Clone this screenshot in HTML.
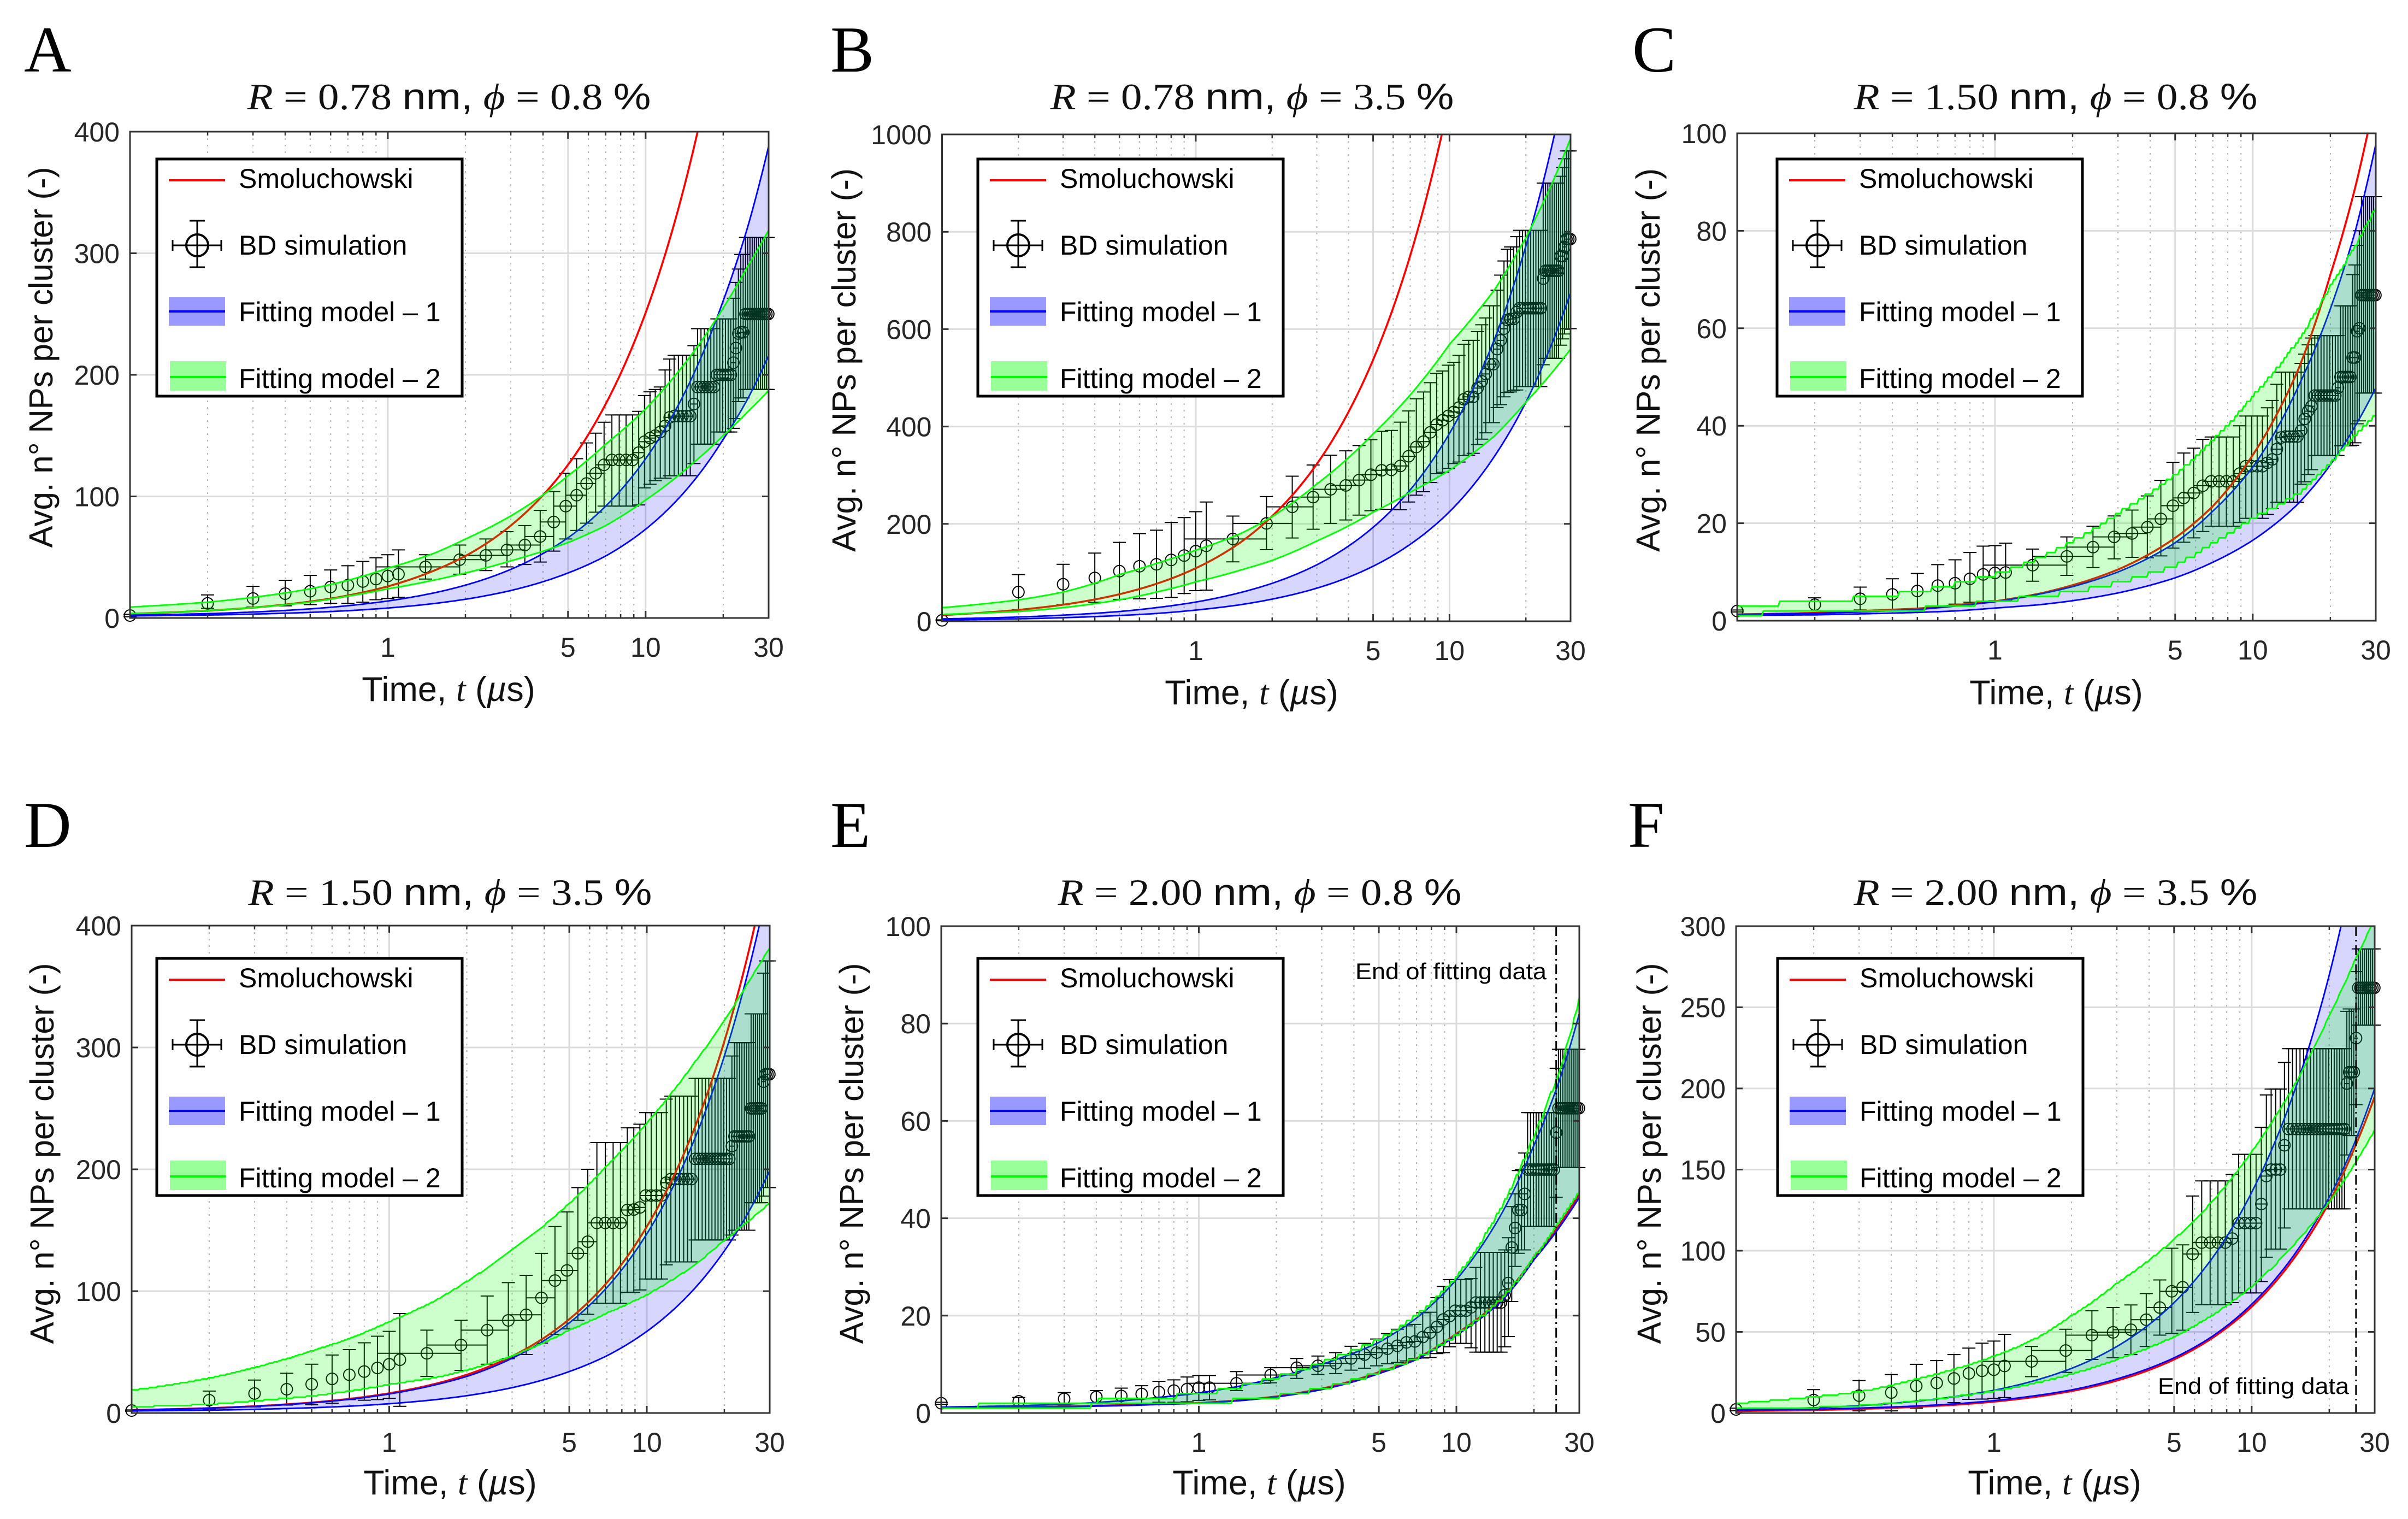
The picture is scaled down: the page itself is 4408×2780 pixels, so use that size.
<!DOCTYPE html>
<html lang="en">
<head>
<meta charset="utf-8">
<title>Avg. NPs per cluster vs time</title>
<style>
html,body{margin:0;padding:0;background:#fff;}
svg{display:block;}
text{font-family:"Liberation Sans",sans-serif;}
.letter{font-family:"Liberation Serif",serif;font-size:120px;fill:#000;}
.title{font-family:"Liberation Serif",serif;font-size:68px;fill:#111;}
.sans{font-family:"Liberation Sans",sans-serif;}
.it{font-style:italic;}
.xlab{font-size:63px;fill:#111;}
.ylab{font-size:61px;fill:#111;}
.mathit{font-family:"Liberation Serif",serif;font-style:italic;}
.leg{font-size:50px;fill:#000;}
.note{font-size:42px;fill:#000;}
</style>
</head>
<body>
<svg id="figure" xmlns="http://www.w3.org/2000/svg" width="4408" height="2780" viewBox="0 0 4408 2780">
<rect x="0" y="0" width="4408" height="2780" fill="#fff"/>

<g id="panel-a">
  <text class="letter" x="44" y="131">A</text>
  <text class="title" x="822" y="200" text-anchor="middle" textLength="739" lengthAdjust="spacingAndGlyphs"><tspan class="it">R</tspan> = 0.78 <tspan class="sans">nm,</tspan> <tspan class="it">ϕ</tspan> = 0.8 <tspan class="sans">%</tspan></text>
  <text class="ylab" transform="translate(96,654) rotate(-90)" text-anchor="middle" textLength="697" lengthAdjust="spacingAndGlyphs">Avg. n° NPs per cluster (-)</text>
  <text class="xlab" x="821" y="1283" text-anchor="middle">Time, <tspan class="mathit">t</tspan> (<tspan class="it">µ</tspan>s)</text>
  <g id="chart-a"></g>
  <g transform="translate(287,291)">
    <rect x="0" y="0" width="559" height="434" fill="#fff" stroke="#000" stroke-width="5"/>
    <line x1="22" x2="125" y1="39" y2="39" stroke="#f00" stroke-width="4"/>
    <text class="leg" x="150" y="53">Smoluchowski</text>
    <circle cx="74" cy="158" r="20" fill="none" stroke="#000" stroke-width="4"/>
    <path d="M29 158H118M29 148V168M118 148V168M74 113V198M60 113H88M60 198H88" fill="none" stroke="#000" stroke-width="3"/>
    <text class="leg" x="150" y="175">BD simulation</text>
    <rect x="22" y="253" width="103" height="52" fill="#9999ff"/>
    <line x1="22" x2="125" y1="279" y2="279" stroke="#00f" stroke-width="4"/>
    <text class="leg" x="150" y="297">Fitting model – 1</text>
    <rect x="24" y="370" width="103" height="54" fill="#99ff99"/>
    <line x1="24" x2="127" y1="399" y2="399" stroke="#0f0" stroke-width="4"/>
    <text class="leg" x="150" y="419">Fitting model – 2</text>
  </g>
</g>

<g id="panel-b">
  <text class="letter" x="1520" y="131">B</text>
  <text class="title" x="2292" y="200" text-anchor="middle" textLength="739" lengthAdjust="spacingAndGlyphs"><tspan class="it">R</tspan> = 0.78 <tspan class="sans">nm,</tspan> <tspan class="it">ϕ</tspan> = 3.5 <tspan class="sans">%</tspan></text>
  <text class="ylab" transform="translate(1566,659) rotate(-90)" text-anchor="middle" textLength="702" lengthAdjust="spacingAndGlyphs">Avg. n° NPs per cluster (-)</text>
  <text class="xlab" x="2291" y="1289" text-anchor="middle">Time, <tspan class="mathit">t</tspan> (<tspan class="it">µ</tspan>s)</text>
  <g id="chart-b"></g>
  <g transform="translate(1790,291)">
    <rect x="0" y="0" width="559" height="434" fill="#fff" stroke="#000" stroke-width="5"/>
    <line x1="22" x2="125" y1="39" y2="39" stroke="#f00" stroke-width="4"/>
    <text class="leg" x="150" y="53">Smoluchowski</text>
    <circle cx="74" cy="158" r="20" fill="none" stroke="#000" stroke-width="4"/>
    <path d="M29 158H118M29 148V168M118 148V168M74 113V198M60 113H88M60 198H88" fill="none" stroke="#000" stroke-width="3"/>
    <text class="leg" x="150" y="175">BD simulation</text>
    <rect x="22" y="253" width="103" height="52" fill="#9999ff"/>
    <line x1="22" x2="125" y1="279" y2="279" stroke="#00f" stroke-width="4"/>
    <text class="leg" x="150" y="297">Fitting model – 1</text>
    <rect x="24" y="370" width="103" height="54" fill="#99ff99"/>
    <line x1="24" x2="127" y1="399" y2="399" stroke="#0f0" stroke-width="4"/>
    <text class="leg" x="150" y="419">Fitting model – 2</text>
  </g>
</g>

<g id="panel-c">
  <text class="letter" x="2988" y="131">C</text>
  <text class="title" x="3763" y="200" text-anchor="middle" textLength="739" lengthAdjust="spacingAndGlyphs"><tspan class="it">R</tspan> = 1.50 <tspan class="sans">nm,</tspan> <tspan class="it">ϕ</tspan> = 0.8 <tspan class="sans">%</tspan></text>
  <text class="ylab" transform="translate(3038,659) rotate(-90)" text-anchor="middle" textLength="702" lengthAdjust="spacingAndGlyphs">Avg. n° NPs per cluster (-)</text>
  <text class="xlab" x="3764" y="1289" text-anchor="middle">Time, <tspan class="mathit">t</tspan> (<tspan class="it">µ</tspan>s)</text>
  <g id="chart-c"></g>
  <g transform="translate(3253,291)">
    <rect x="0" y="0" width="559" height="434" fill="#fff" stroke="#000" stroke-width="5"/>
    <line x1="22" x2="125" y1="39" y2="39" stroke="#f00" stroke-width="4"/>
    <text class="leg" x="150" y="53">Smoluchowski</text>
    <circle cx="74" cy="158" r="20" fill="none" stroke="#000" stroke-width="4"/>
    <path d="M29 158H118M29 148V168M118 148V168M74 113V198M60 113H88M60 198H88" fill="none" stroke="#000" stroke-width="3"/>
    <text class="leg" x="150" y="175">BD simulation</text>
    <rect x="22" y="253" width="103" height="52" fill="#9999ff"/>
    <line x1="22" x2="125" y1="279" y2="279" stroke="#00f" stroke-width="4"/>
    <text class="leg" x="150" y="297">Fitting model – 1</text>
    <rect x="24" y="370" width="103" height="54" fill="#99ff99"/>
    <line x1="24" x2="127" y1="399" y2="399" stroke="#0f0" stroke-width="4"/>
    <text class="leg" x="150" y="419">Fitting model – 2</text>
  </g>
</g>

<g id="panel-d">
  <text class="letter" x="44" y="1550">D</text>
  <text class="title" x="824" y="1656" text-anchor="middle" textLength="739" lengthAdjust="spacingAndGlyphs"><tspan class="it">R</tspan> = 1.50 <tspan class="sans">nm,</tspan> <tspan class="it">ϕ</tspan> = 3.5 <tspan class="sans">%</tspan></text>
  <text class="ylab" transform="translate(98,2111) rotate(-90)" text-anchor="middle" textLength="697" lengthAdjust="spacingAndGlyphs">Avg. n° NPs per cluster (-)</text>
  <text class="xlab" x="824" y="2735" text-anchor="middle">Time, <tspan class="mathit">t</tspan> (<tspan class="it">µ</tspan>s)</text>
  <g id="chart-d"></g>
  <g transform="translate(287,1754)">
    <rect x="0" y="0" width="559" height="434" fill="#fff" stroke="#000" stroke-width="5"/>
    <line x1="22" x2="125" y1="39" y2="39" stroke="#f00" stroke-width="4"/>
    <text class="leg" x="150" y="53">Smoluchowski</text>
    <circle cx="74" cy="158" r="20" fill="none" stroke="#000" stroke-width="4"/>
    <path d="M29 158H118M29 148V168M118 148V168M74 113V198M60 113H88M60 198H88" fill="none" stroke="#000" stroke-width="3"/>
    <text class="leg" x="150" y="175">BD simulation</text>
    <rect x="22" y="253" width="103" height="52" fill="#9999ff"/>
    <line x1="22" x2="125" y1="279" y2="279" stroke="#00f" stroke-width="4"/>
    <text class="leg" x="150" y="297">Fitting model – 1</text>
    <rect x="24" y="370" width="103" height="54" fill="#99ff99"/>
    <line x1="24" x2="127" y1="399" y2="399" stroke="#0f0" stroke-width="4"/>
    <text class="leg" x="150" y="419">Fitting model – 2</text>
  </g>
</g>

<g id="panel-e">
  <text class="letter" x="1520" y="1550">E</text>
  <text class="title" x="2306" y="1656" text-anchor="middle" textLength="739" lengthAdjust="spacingAndGlyphs"><tspan class="it">R</tspan> = 2.00 <tspan class="sans">nm,</tspan> <tspan class="it">ϕ</tspan> = 0.8 <tspan class="sans">%</tspan></text>
  <text class="ylab" transform="translate(1580,2111) rotate(-90)" text-anchor="middle" textLength="697" lengthAdjust="spacingAndGlyphs">Avg. n° NPs per cluster (-)</text>
  <text class="xlab" x="2305" y="2735" text-anchor="middle">Time, <tspan class="mathit">t</tspan> (<tspan class="it">µ</tspan>s)</text>
  <g id="chart-e"></g>
  <text class="note" x="2481" y="1792" textLength="350" lengthAdjust="spacingAndGlyphs">End of fitting data</text>
  <g transform="translate(1790,1754)">
    <rect x="0" y="0" width="559" height="434" fill="#fff" stroke="#000" stroke-width="5"/>
    <line x1="22" x2="125" y1="39" y2="39" stroke="#f00" stroke-width="4"/>
    <text class="leg" x="150" y="53">Smoluchowski</text>
    <circle cx="74" cy="158" r="20" fill="none" stroke="#000" stroke-width="4"/>
    <path d="M29 158H118M29 148V168M118 148V168M74 113V198M60 113H88M60 198H88" fill="none" stroke="#000" stroke-width="3"/>
    <text class="leg" x="150" y="175">BD simulation</text>
    <rect x="22" y="253" width="103" height="52" fill="#9999ff"/>
    <line x1="22" x2="125" y1="279" y2="279" stroke="#00f" stroke-width="4"/>
    <text class="leg" x="150" y="297">Fitting model – 1</text>
    <rect x="24" y="370" width="103" height="54" fill="#99ff99"/>
    <line x1="24" x2="127" y1="399" y2="399" stroke="#0f0" stroke-width="4"/>
    <text class="leg" x="150" y="419">Fitting model – 2</text>
  </g>
</g>

<g id="panel-f">
  <text class="letter" x="2980" y="1550">F</text>
  <text class="title" x="3763" y="1656" text-anchor="middle" textLength="739" lengthAdjust="spacingAndGlyphs"><tspan class="it">R</tspan> = 2.00 <tspan class="sans">nm,</tspan> <tspan class="it">ϕ</tspan> = 3.5 <tspan class="sans">%</tspan></text>
  <text class="ylab" transform="translate(3040,2111) rotate(-90)" text-anchor="middle" textLength="697" lengthAdjust="spacingAndGlyphs">Avg. n° NPs per cluster (-)</text>
  <text class="xlab" x="3761" y="2735" text-anchor="middle">Time, <tspan class="mathit">t</tspan> (<tspan class="it">µ</tspan>s)</text>
  <g id="chart-f"></g>
  <text class="note" x="3950" y="2551" textLength="350" lengthAdjust="spacingAndGlyphs">End of fitting data</text>
  <g transform="translate(3254,1754)">
    <rect x="0" y="0" width="559" height="434" fill="#fff" stroke="#000" stroke-width="5"/>
    <line x1="22" x2="125" y1="39" y2="39" stroke="#f00" stroke-width="4"/>
    <text class="leg" x="150" y="53">Smoluchowski</text>
    <circle cx="74" cy="158" r="20" fill="none" stroke="#000" stroke-width="4"/>
    <path d="M29 158H118M29 148V168M118 148V168M74 113V198M60 113H88M60 198H88" fill="none" stroke="#000" stroke-width="3"/>
    <text class="leg" x="150" y="175">BD simulation</text>
    <rect x="22" y="253" width="103" height="52" fill="#9999ff"/>
    <line x1="22" x2="125" y1="279" y2="279" stroke="#00f" stroke-width="4"/>
    <text class="leg" x="150" y="297">Fitting model – 1</text>
    <rect x="24" y="370" width="103" height="54" fill="#99ff99"/>
    <line x1="24" x2="127" y1="399" y2="399" stroke="#0f0" stroke-width="4"/>
    <text class="leg" x="150" y="419">Fitting model – 2</text>
  </g>
</g>
</svg>

<script>
// ---------- shared data ----------
const timePoints = [0.1,0.2,0.3,0.4,0.5,0.6,0.7,0.8,0.9,1.0,1.1,
 1.4,1.9,2.4,2.9,3.4,3.9,4.4,4.9,5.4,5.9,
 6.4,6.9,7.4,7.9,8.4,8.9,9.4,9.9,10.4,10.9,
 11.4,11.9,12.4,12.9,13.4,13.9,14.4,14.9,15.4,15.9,
 16.4,16.9,17.4,17.9,18.4,18.9,19.4,19.9,20.4,20.9,
 21.4,21.9,22.4,22.9,23.4,23.9,24.4,24.9,25.4,25.9,
 26.4,26.9,27.4,27.9,28.4,28.9,29.4,29.9];
const timeErrors = [0,0,0,0,0,0,0,0,0,0,0,
 .5,.5,.5,.5,.5,.5,.5,.5,.5,.5,
 .5,.5,.5,.5,.5,.5,.5,.5,.5,.5,
 .5,.5,.5,.5,.5,.5,.5,.5,.5,.5,
 .5,.5,.5,.5,.5,.5,.5,.5,.5,.5,
 .5,.5,.5,.5,.5,.5,.5,.5,.5,.5,
 .5,.5,.5,.5,.5,.5,.5,.5];
const curveTimes = [0.1,0.2,0.3,0.5,0.7,1,1.5,2,3,5,7,10,15,20,25,30];
const xTickMajor = [1,5,10,30];
const xTickMinor = [0.2,0.3,0.4,0.5,0.6,0.7,0.8,0.9,2,3,4,6,7,8,9,20];
const xGridMajor = [1,5,10];

// ---------- panel A ----------
const yTicksA = [0,100,200,300,400];
const meanA = [2,12,16,20,22,25.5,27,30,32,34.5,36,
 42,48,51.5,56,60,67,79,92,101,110.6,
 119,126,130,130,130,130,136,145,148,150,
 153,158,165,166,166,166,166,166,176,190,
 190,190,190,190,190,200,200,200,200,200,
 200,210,222,234,235,235,250,250,250,250,
 250,250,250,250,250,250,250,250];
const upperA = [3,19,26,31,35,39.5,43,46.5,49.5,52,56,
 52,60,65,71,76,88.5,104,119,131,144,
 152,161,167,167,167,167,170,183,186,188,
 190,204,213,216,216,216,216,216,224,238,
 238,238,238,238,238,246,246,246,246,246,
 246,263,276,287,299,299,313,313,313,313,
 313,313,313,313,313,313,313,313];
const lowerA = [1,8,9,10,11,12,12,13,15,16,17,
 32,36,39,42,44,46,55,65,72,78,
 87,92,92,92,92,92,93,107,110,113,
 115,115,117,117,117,117,117,117,127,143,
 143,143,143,143,143,153,153,153,153,153,
 153,156,164,178,181,181,188,188,188,188,
 188,188,188,188,188,188,188,188];
const smolA = [3.5,6,8.5,13.5,18.5,26,38.7,51,76,126,176,251,377,503,628,754];
const fit1UpA = [2.3,3.6,4.9,7.5,10.1,14,20.5,27,40,66,92,131,196,261,323,388];
const fit1LoA = [1.7,2.4,3.2,4.6,6,8.2,11.8,15.4,22.6,37,51,73,110,147,181,216];
const fit2UpA = [9,13,17,24,31,41,53,65,84,117,143,172,216,255,290,319];
const fit2LoA = [3.5,6,8.5,13,18,24,31,37,47,62,76,97,126,150,170,187];

// ---------- panel B ----------
const yTicksB = [0,200,400,600,800,1000];
const meanB = [2,60,76,89,103,113,117,126,135,144,155,
 169,201,235,255,271,279,290,301,310,311,
 319,339,358,369,388,404,413,422,430,439,
 456,461,461,479,493,508,528,528,559,577,
 601,619,621,621,635,643,643,643,643,643,
 643,643,643,643,704,720,720,720,720,720,
 720,720,750,750,769,785,785,785];
const upperB = [3,96,117,140,162,180,187,203,213,225,245,
 216,256,298,321,341,350,361,373,390,392,
 409,432,457,471,490,509,514,526,532,546,
 569,577,577,595,609,623,648,648,680,711,
 740,764,769,769,790,803,803,803,803,803,
 803,803,803,803,900,900,900,900,900,900,
 900,900,914,932,950,966,966,966];
const lowerB = [1,24,34,39,45,46,47,49,57,63,64,
 122,147,171,189,201,208,218,227,230,230,
 229,245,259,266,285,303,306,314,324,327,
 340,341,345,363,374,387,408,408,439,445,
 461,470,471,474,475,482,482,482,482,482,
 482,482,482,482,527,540,540,540,540,540,
 540,540,567,580,590,601,601,601];
const smolB = [12.7,23.4,34,55.5,77,109,162,216,323,537,751,1072,1607,2142,2677,3212];
const fit1UpB = [4.9,8.7,12.6,20,28,39.5,59,78,116,193,270,386,578,771,964,1156];
const fit1LoB = [2.8,5,7.3,11.8,16,23,34,45.5,68,113,158,225,338,450,563,675];
const fit2UpB = [28,44,60,96,119,146,180,215,282,385,465,569,680,788,892,992];
const fit2LoB = [14,20,28,44,60,81,105,125,165,224,265,310,380,450,507,559];

// ---------- panel C ----------
const yTicksC = [0,20,40,60,80,100];
const meanC = [2,3.3,4.5,5.4,6.1,7.2,7.7,8.6,9.5,9.8,9.9,
 11.4,13.2,15.1,17.2,17.9,19.2,20.9,23.6,25.2,26.2,
 27.7,28.6,28.6,28.6,28.6,30.2,31.7,31.7,31.7,31.7,
 32.4,33.1,35.2,37.6,37.8,37.8,37.8,37.8,39,41.4,
 43,44,46.2,46.2,46.2,46.2,46.2,46.2,46.2,46.2,
 47.8,50,50,50,50,50,54,54,59.4,60,
 66.8,66.8,66.8,66.8,66.8,66.8,66.8,66.8];
const upperC = [2.2,4.7,6.9,8.6,9.7,11.5,12.5,14,15.3,15.4,15.9,
 14.7,17.2,19.4,21.5,22.7,25.6,28.8,32.5,34.4,35.4,
 37.2,37.7,37.7,37.7,37.7,40,42,42,42,42,
 43.7,45.2,48.5,51,51,51,51,51,52.8,54.7,
 56.6,58,58.5,58.5,58.5,58.5,58.5,58.5,58.5,58.5,
 58.5,64.6,64.6,64.6,64.6,64.6,71,73,77,80,
 87,87,87,87,87,87,87,87];
const lowerC = [1.8,2,2.2,2.1,2.2,2.9,3.4,3.8,3.9,4.1,4.2,
 8.1,9.3,10.9,12.7,13,12.9,13.3,14.9,16.1,17,
 18.3,19.4,19.4,19.4,19.4,20.2,21,21,21,21,
 21.8,23,24.3,24.3,24.3,24.3,24.3,24.3,28,28.5,
 30,31,33.9,33.9,33.9,33.9,33.9,33.9,33.9,33.9,
 33.9,35.9,35.9,35.9,35.9,35.9,36,36.5,40.4,41,
 46.7,46.7,46.7,46.7,46.7,46.7,46.7,46.7];
const smolC = [1.3,1.6,2,2.5,3.2,4,5.6,7.3,10.5,17,23.5,34,51.5,71,89,108];
const fit1UpC = [1.3,1.5,1.8,2.3,3,3.9,5.5,7,10,16,22.5,31.5,48,64,80,97.7];
const fit1LoC = [1.1,1.2,1.4,1.7,2,2.6,3.3,4.1,5.7,8.8,12,16.5,24,32,40,47.8];
const fit2UpC = [3,4,4.6,6,7.5,9.5,13,16.3,22,30,37,46,57.5,68.5,77,84.9];
const fit2LoC = [1.3,2,2,2.4,3,4,5,5.9,7.8,11.3,16,21,26,32.4,38,42.3];

// ---------- panel D ----------
const yTicksD = [0,100,200,300,400];
const meanD = [2,10.5,16,19.5,23.6,28,31.4,34,37,40,43.7,
 49,55.8,68,76,80.6,94.5,108.7,117,131,140.6,
 156,156,156,156,166.6,167,168.7,178.5,178.5,178.5,
 178.5,189,192,192,192,192,192,192,208.6,208.6,
 208.6,208.6,208.6,208.6,208.6,208.6,208.6,208.6,208.6,208.6,
 219,227,227,227,227,227,227,227,250,250,
 250,250,250,250,272,278,278,278];
const upperD = [2.5,18,27,32.6,40,47.6,52,57.6,63,67,81.6,
 68,76,96,107,113,131,153,165,185,200,
 222,222,222,222,234,234,237,246.5,246.5,246.5,
 246.5,257.6,260,260,260,260,260,260,274.6,274.6,
 274.6,274.6,274.6,274.6,274.6,274.6,274.6,274.6,274.6,274.6,
 293,304,304,304,304,304,304,304,327.6,327.6,
 327.6,327.6,327.6,327.6,361,371,371,371];
const lowerD = [1.5,3,5,6.5,6.7,8,11,10.5,11,12,5.5,
 30,35,40,44.6,48,57.4,64.6,69,76,81,
 90,90,90,90,99,99,101,110,110,110,
 110,121.6,124,124,124,124,124,124,142,142,
 142,142,142,142,142,142,142,142,142,142,
 146,150,150,150,150,150,150,150,172.6,172.6,
 172.6,172.6,172.6,172.6,178,185,185,185];
const smolD = [2.5,4,5.6,8.6,11.6,16.2,23.8,31.4,46.6,77,107,153,229,305,381,457];
const fit1UpD = [2.5,3.9,5.4,8.3,11.2,15.6,23,30,45,74,103,147,220,293,366,439];
const fit1LoD = [1.7,2.3,3,4.3,5.6,7.6,10.9,14.2,20.8,34,47,67,100,133,166,199];
const fit2UpD = [18.7,28.7,37.4,51,61,75,92,108,134,172,203,238,285,322,355,382];
const fit2LoD = [5,7,10,14,18,23.5,29,35,47,68,82,97,120,142,158,172.5];

// ---------- panel E ----------
const yTicksE = [0,20,40,60,80,100];
const meanE = [2,2.4,2.9,3.3,3.5,3.9,4.3,4.6,4.9,5.2,5.2,
 6.1,7.8,9.3,9.7,10.2,11.2,12,12.4,13.2,13.8,
 14.5,14.7,15.6,16.5,17.7,19.2,19.9,21,21,21,
 21.7,22.7,22.7,22.7,22.7,22.7,22.7,22.7,24.2,26.7,
 34,38,41.7,41.7,45,50,50,50,50,50,
 50,50,50,50,50,50,57.6,62.6,62.6,62.6,
 62.6,62.6,62.6,62.6,62.6,62.6,62.6,62.6];
const upperE = [2.2,3.2,4.2,4.6,5.1,5.6,6.5,6.8,7.4,7.7,7.7,
 8.5,9.3,11.2,11.7,12.4,13.7,14.3,15.2,16.3,17.2,
 17.9,18.2,20.6,20.7,23.7,26,27.4,27.4,27.4,27.4,
 27.6,29.9,33,33,33,33,33,33,33.5,36,
 42.4,45,49.8,50,53.4,61.7,61.7,61.7,61.7,61.7,
 61.7,61.7,61.7,61.7,61.7,61.7,70.8,74.7,74.7,74.7,
 74.7,74.7,74.7,74.7,74.7,74.7,74.7,74.7];
const lowerE = [1.8,1.3,1.6,1.9,1.9,2,2.2,2.2,2.3,2.6,2.7,
 4.6,6.2,7.1,7.9,8.1,8.8,9.2,9.7,10.1,10.4,
 10.7,11.2,11.3,11.4,12.2,12.4,13.6,14.3,14.3,14.3,
 13.4,12.5,12.5,12.5,12.5,12.5,12.5,12.5,13.6,15.7,
 22.9,30.1,32.8,33.5,33.5,38.3,38.3,38.3,38.3,38.3,
 38.3,38.3,38.3,38.3,38.3,38.3,44.3,50.4,50.4,50.4,
 50.4,50.4,50.4,50.4,50.4,50.4,50.4,50.4];
const smolE = [1.05,1.2,1.35,1.6,1.85,2.05,2.7,3.4,5,8.4,11.2,16.3,23.5,32,38.5,45];
const fit1UpE = [1.2,1.5,1.8,2.5,3.2,4.1,5.7,7.3,10,14.5,19.5,27.4,41,55,68,82];
const fit1LoE = [1,1.15,1.3,1.5,1.75,2,2.6,3.3,4.8,8.1,11,16,23,31.5,38,44.3];
const fit2UpE = [1.2,1.9,2,2.95,3.2,3.9,5.6,7.3,10.4,15,20,28,42.5,57,70,85];
const fit2LoE = [0.93,1,1.2,1.9,1.9,2.05,2.7,3.4,5,8.4,11.2,16,23.5,32,39,45.5];
const fitEndE = 24.4;

// ---------- panel F ----------
const yTicksF = [0,50,100,150,200,250,300];
const meanF = [2.2,8,10.7,12.6,16.6,18.5,21.3,24.4,26,26.7,29,
 31.8,38.5,48,49.7,51.3,57.5,65,75,77.5,98,
 105,105,105,105,107.5,117,117,117,117,128.8,
 146,150,150,150,165,175,175,175,175,175,
 175,175,175,175,175,175,175,175,175,175,
 175,175,175,175,203,210,210,210,231,262,
 262,262,262,262,262,262,262,262];
const upperF = [3,14.4,20,23.7,30,32.3,36,40,43,44.3,48.5,
 41,51.6,63,65,66.6,73.6,82,101.5,103.6,133.7,
 143,143,143,143,147,159.4,159.4,159.4,159.4,176,
 196,199.6,199.6,199.6,216,224.5,224.5,224.5,224.5,224.5,
 224.5,224.5,224.5,224.5,224.5,224.5,224.5,224.5,224.5,224.5,
 224.5,224.5,224.5,224.5,247.5,249,249,249,272,286,
 286,286,286,286,286,286,286,286];
const lowerF = [1.4,1.9,1.3,1.3,3,4.8,6.4,8.4,8.6,9,9.5,
 22.4,25,33,34,36,41,48,49,51,62,
 66.7,66.7,66.7,66.7,68,74,74,74,74,81,
 96,101,101,101,114,125.8,125.8,125.8,125.8,125.8,
 125.8,125.8,125.8,125.8,125.8,125.8,125.8,125.8,125.8,125.8,
 125.8,125.8,125.8,125.8,159,171,171,171,190,239,
 239,239,239,239,239,239,239,239];
const smolF = [1.2,1.8,2.5,3.8,5,7,10.3,13.5,20,33,46,65.5,98,130,163,195];
const fit1UpF = [1.9,3.2,4.5,7.3,10,14,20.8,27.5,41,68,95,136,203,270,338,405];
const fit1LoF = [1.7,2.3,3,4.3,5.6,7.6,11,14.2,21,34,47,67,100,133,166,200];
const fit2UpF = [6,10,13,21,27,35,47,60,80,107,130,161,205,245,278,305];
const fit2LoF = [2.5,3.4,4.5,7.3,10,13.5,19,24,33,47,60,78,106,130,153,174.5];
const fitEndF = 25.4;

// ---------- panel wiring (values by reference, layout separately) ----------
const panelSeries = {
 a:{yTicks:yTicksA,mean:meanA,upper:upperA,lower:lowerA,smol:smolA,up1:fit1UpA,lo1:fit1LoA,up2:fit2UpA,lo2:fit2LoA},
 b:{yTicks:yTicksB,mean:meanB,upper:upperB,lower:lowerB,smol:smolB,up1:fit1UpB,lo1:fit1LoB,up2:fit2UpB,lo2:fit2LoB},
 c:{yTicks:yTicksC,mean:meanC,upper:upperC,lower:lowerC,smol:smolC,up1:fit1UpC,lo1:fit1LoC,up2:fit2UpC,lo2:fit2LoC},
 d:{yTicks:yTicksD,mean:meanD,upper:upperD,lower:lowerD,smol:smolD,up1:fit1UpD,lo1:fit1LoD,up2:fit2UpD,lo2:fit2LoD},
 e:{yTicks:yTicksE,mean:meanE,upper:upperE,lower:lowerE,smol:smolE,up1:fit1UpE,lo1:fit1LoE,up2:fit2UpE,lo2:fit2LoE,fitEnd:fitEndE},
 f:{yTicks:yTicksF,mean:meanF,upper:upperF,lower:lowerF,smol:smolF,up1:fit1UpF,lo1:fit1LoF,up2:fit2UpF,lo2:fit2LoF,fitEnd:fitEndF}
};
const panelFrames = {
 a:{l:238,r:1407,t:241,b:1131,stair:0},
 b:{l:1724.5,r:2875,t:246,b:1137,stair:0},
 c:{l:3180,r:4349,t:244,b:1136,stair:1},
 d:{l:241,r:1409,t:1694,b:2586,stair:1},
 e:{l:1723,r:2891,t:1695,b:2586,stair:1},
 f:{l:3178,r:4347,t:1695,b:2586,stair:1}
};

const NS = 'http://www.w3.org/2000/svg';
const X_MIN = 0.1, X_MAX = 30;

function make(tag, attrs, parent){
  const n = document.createElementNS(NS, tag);
  for (const k in attrs) n.setAttribute(k, attrs[k]);
  parent.appendChild(n);
  return n;
}
function interpLogLog(t, ts, vs){
  let i = 0;
  while (i < ts.length - 2 && t > ts[i + 1]) i++;
  const f = (Math.log(t) - Math.log(ts[i])) / (Math.log(ts[i + 1]) - Math.log(ts[i]));
  return Math.exp(Math.log(vs[i]) + f * (Math.log(vs[i + 1]) - Math.log(vs[i])));
}

function drawPanel(key){
  const S = panelSeries[key];
  const F = panelFrames[key];
  const yMax = S.yTicks[S.yTicks.length - 1];
  const xScale = t => F.l + (Math.log10(t) - Math.log10(X_MIN)) / (Math.log10(X_MAX) - Math.log10(X_MIN)) * (F.r - F.l);
  const xInvert = px => Math.pow(10, Math.log10(X_MIN) + (px - F.l) / (F.r - F.l) * (Math.log10(X_MAX) - Math.log10(X_MIN)));
  const yScale = v => F.b - v / yMax * (F.b - F.t);
  const root = document.getElementById('chart-' + key);

  const defs = make('defs', {}, root);
  const clip = make('clipPath', {id:'clip-' + key}, defs);
  make('rect', {x:F.l, y:F.t, width:F.r - F.l + 2, height:F.b - F.t}, clip);

  // plot background + grids
  const grid = make('g', {}, root);
  
  
  xTickMinor.forEach(t => {
    const ln = make('line', {x1:xScale(t), x2:xScale(t), y1:F.t, y2:F.b, stroke:'#b4b4b4', 'stroke-width':2, 'stroke-dasharray':'3 9'}, grid);
    
    
  });
  xGridMajor.forEach(t => {
    const ln = make('line', {x1:xScale(t), x2:xScale(t), y1:F.t, y2:F.b, stroke:'#dcdcdc', 'stroke-width':3}, grid);
    
    
  });
  S.yTicks.forEach(v => {
    const ln = make('line', {x1:F.l, x2:F.r, y1:yScale(v), y2:yScale(v), stroke:'#dcdcdc', 'stroke-width':3}, grid);
    
    
  });

  // BD simulation points with error bars (under the translucent bands)
  const bd = make('g', {}, root);
  
  
  timePoints.forEach((t, i) => {
    const x = xScale(t), y = yScale(S.mean[i]);
    const yU = yScale(S.upper[i]), yL = yScale(S.lower[i]);
    const cap = 12;
    let d = `M${x} ${yU}V${yL}M${x - cap} ${yU}H${x + cap}M${x - cap} ${yL}H${x + cap}`;
    if (timeErrors[i] > 0) {
      d += `M${xScale(Math.max(X_MIN, t - timeErrors[i]))} ${y}H${xScale(Math.min(X_MAX, t + timeErrors[i]))}`;
    }
    const bars = make('path', {d:d, fill:'none', stroke:'#000', 'stroke-width':2}, bd);
    
    
    const c = make('circle', {cx:x, cy:y, r:10.5, fill:'none', stroke:'#000', 'stroke-width':2}, bd);
    
    
  });

  // curves
  const curvePoints = (vals, stair) => {
    const pts = [];
    const step = 3;
    for (let px = F.l; px <= F.r + 0.01; px += step) {
      let v = interpLogLog(xInvert(Math.min(px, F.r)), curveTimes, vals);
      if (stair) v = Math.round(v / stair) * stair;
      pts.push([px, yScale(v)]);
    }
    let vEnd = vals[vals.length - 1];
    if (stair) vEnd = Math.round(vEnd / stair) * stair;
    pts.push([F.r, yScale(vEnd)]);
    return pts;
  };
  const toPath = pts => pts.map((p, i) => (i ? 'L' : 'M') + p[0].toFixed(1) + ' ' + p[1].toFixed(1)).join('');

  const clipG = make('g', {'clip-path':'url(#clip-' + key + ')'}, root);
  
  

  const red = make('path', {d:toPath(curvePoints(S.smol, 0)), fill:'none', stroke:'#ff0000', 'stroke-width':3.6}, clipG);
  
  

  const blue = make('path', {d:toPath(curvePoints(S.up1, 0)) + toPath(curvePoints(S.lo1, 0).reverse()).replace('M', 'L') + 'Z',
    fill:'rgba(0,0,255,0.16)', stroke:'#0000ff', 'stroke-width':2.8, 'stroke-linejoin':'round'}, clipG);
  
  

  const green = make('path', {d:toPath(curvePoints(S.up2, F.stair)) + toPath(curvePoints(S.lo2, F.stair).reverse()).replace('M', 'L') + 'Z',
    fill:'rgba(0,255,0,0.2)', stroke:'#00ff00', 'stroke-width':2.8, 'stroke-linejoin':'round'}, clipG);
  
  

  if (S.fitEnd) {
    const fe = make('line', {x1:xScale(S.fitEnd), x2:xScale(S.fitEnd), y1:F.t, y2:F.b, stroke:'#000', 'stroke-width':3, 'stroke-dasharray':'18 7 3 7'}, root);
    
    
  }

  // axes
  const axes = make('g', {}, root);
  
  
  const box = make('rect', {x:F.l, y:F.t, width:F.r - F.l, height:F.b - F.t, fill:'none', stroke:'#333', 'stroke-width':3}, axes);
  
  

  xTickMinor.forEach(t => {
    const tk = make('path', {d:`M${xScale(t)} ${F.b}v-7M${xScale(t)} ${F.t}v7`, stroke:'#333', 'stroke-width':2.5, fill:'none'}, axes);
    
    
  });
  xTickMajor.forEach(t => {
    const tk = make('path', {d:`M${xScale(t)} ${F.b}v-13M${xScale(t)} ${F.t}v13`, stroke:'#333', 'stroke-width':3, fill:'none'}, axes);
    
    
    const lb = make('text', {x:xScale(t), y:F.b + 71, 'text-anchor':'middle', 'font-size':50, fill:'#262626'}, axes);
    lb.textContent = String(t);
    
    
  });
  S.yTicks.forEach(v => {
    const tk = make('path', {d:`M${F.l} ${yScale(v)}h12M${F.r} ${yScale(v)}h-12`, stroke:'#333', 'stroke-width':3, fill:'none'}, axes);
    
    
    const lb = make('text', {x:F.l - 19, y:yScale(v) + 18, 'text-anchor':'end', 'font-size':50, fill:'#262626'}, axes);
    lb.textContent = String(v);
    
    
  });
}

['a','b','c','d','e','f'].forEach(drawPanel);
</script>
</body>
</html>
